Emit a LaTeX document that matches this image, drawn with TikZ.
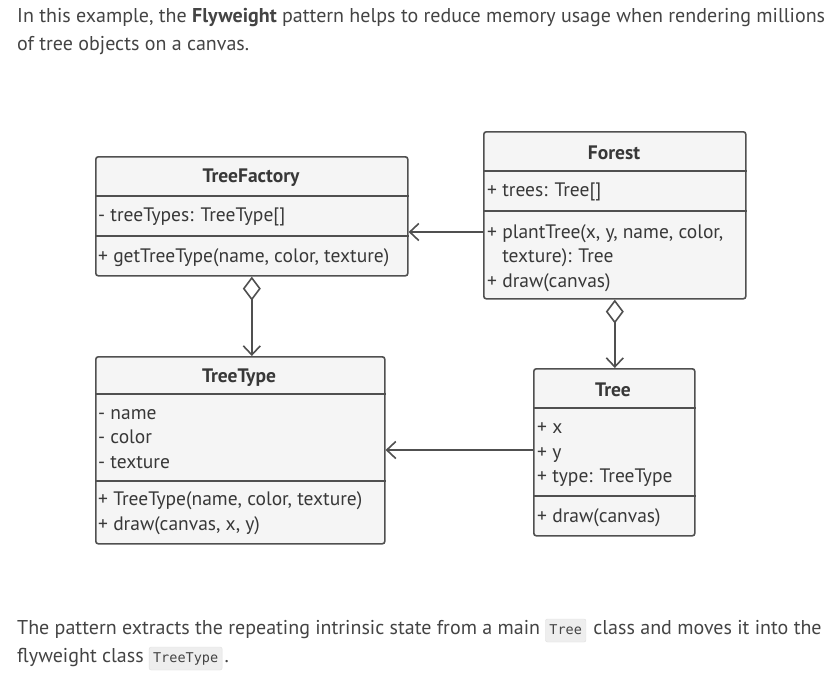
\documentclass[tikz,border=0pt]{standalone}
\usepackage{fontspec}
\setmainfont{PT Sans}
\newfontfamily\codefont{DejaVu Sans Mono}
\usepackage{xcolor}
\usetikzlibrary{positioning, arrows.meta}

\definecolor{umlline}{HTML}{505050}
\definecolor{umlfill}{HTML}{F5F5F5}
\definecolor{umltext}{HTML}{383838}
\definecolor{bodytext}{HTML}{444444}
\definecolor{codefill}{HTML}{EEEEEE}

\tikzset{
    classbox/.style={draw=umlline, fill=umlfill, line width=1.6pt, rounded corners=2.5pt, inner sep=0pt, anchor=north west},
    divider/.style={draw=umlline, line width=1.6pt},
    classname/.style={font=\bfseries\fontsize{19.5}{19.5}\selectfont, text=umltext, inner sep=0pt, yshift=-2pt},
    member/.style={font=\fontsize{19.5}{24.5}\selectfont, text=umltext, anchor=west, align=left, inner sep=0pt, yshift=-2pt},
    assoc/.style={draw=umlline, line width=1.6pt, -{Straight Barb[length=9pt, width=17pt]}},
    aggr/.style={draw=umlline, line width=1.6pt, {Diamond[open, length=24pt, width=18pt, fill=white]}-{Straight Barb[length=9pt, width=17pt]}},
    para/.style={font=\fontsize{20}{20}\selectfont, text=bodytext, inner sep=0pt, anchor=base west},
    code/.style={font=\codefont\fontsize{13.5}{13.5}\selectfont, text=bodytext, fill=codefill, draw=black!12, rounded corners=2pt, text height=10pt, text depth=3pt, inner xsep=4pt, inner ysep=5pt, anchor=base west}
}

\begin{document}
\begin{tikzpicture}[x=1pt, y=-1pt]
    \useasboundingbox[fill=white] (0,0) rectangle (832,691);

    % intro text
    \node[para] (intro1) at (17,22) {In this example, the \textbf{Flyweight} pattern helps to reduce memory usage when rendering millions};
    \node[para] (intro2) at (17,50) {of tree objects on a canvas.};

    % classes
    \node[classbox, minimum width=312, minimum height=119] (factory) at (95,156) {};
    \draw[divider] (factory.west |- 0,196) -- (factory.east |- 0,196);
    \draw[divider] (factory.west |- 0,236) -- (factory.east |- 0,236);
    \node[classname] (factoryname) at (251,176) {TreeFactory};
    \node[member] (factoryattr) at (98,215) {- treeTypes: TreeType[]};
    \node[member] (factoryop) at (98,256) {+ getTreeType(name, color, texture)};

    \node[classbox, minimum width=262, minimum height=167] (forest) at (483,131) {};
    \draw[divider] (forest.west |- 0,171) -- (forest.east |- 0,171);
    \draw[divider] (forest.west |- 0,211) -- (forest.east |- 0,211);
    \node[classname] (forestname) at (614,151) {Forest};
    \node[member] (forestattr) at (487,190) {+ trees: Tree[]};
    \node[member] (forestop) at (487,256) {+ plantTree(x, y, name, color,\\\phantom{+ }texture): Tree\\+ draw(canvas)};

    \node[classbox, minimum width=289, minimum height=187] (treetype) at (95,356) {};
    \draw[divider] (treetype.west |- 0,394) -- (treetype.east |- 0,394);
    \draw[divider] (treetype.west |- 0,481) -- (treetype.east |- 0,481);
    \node[classname] (treetypename) at (239,376) {TreeType};
    \node[member] (treetypeattr) at (98,437) {- name\\- color\\- texture};
    \node[member] (treetypeop) at (98,511) {+ TreeType(name, color, texture)\\+ draw(canvas, x, y)};

    \node[classbox, minimum width=161, minimum height=167] (tree) at (533,368) {};
    \draw[divider] (tree.west |- 0,408) -- (tree.east |- 0,408);
    \draw[divider] (tree.west |- 0,496) -- (tree.east |- 0,496);
    \node[classname] (treename) at (613,388) {Tree};
    \node[member] (treeattr) at (537,453) {+ x\\+ y\\+ type: TreeType};
    \node[member] (treeop) at (537,516) {+ draw(canvas)};

    % relations
    \draw[assoc] (forest.west |- 0,232) -- (factory.east |- 0,232);
    \draw[aggr] (factory.south) -- (factory.south |- treetype.north);
    \draw[aggr] (forest.south) -- (forest.south |- tree.north);
    \draw[assoc] (tree.west |- 0,450) -- (treetype.east |- 0,450);

    % closing text
    \node[para] (outro1) at (17,634) {The pattern extracts the repeating intrinsic state from a main};
    \node[code, right=5pt of outro1.base east, anchor=base west] (codetree) {Tree};
    \node[para, right=7pt of codetree.base east, anchor=base west] (outro2) {class and moves it into the};
    \node[para] (outro3) at (17,662) {flyweight class};
    \node[code, right=5pt of outro3.base east, anchor=base west] (codetreetype) {TreeType};
    \node[para, right=2pt of codetreetype.base east, anchor=base west] (outro4) {.};
\end{tikzpicture}
\end{document}
